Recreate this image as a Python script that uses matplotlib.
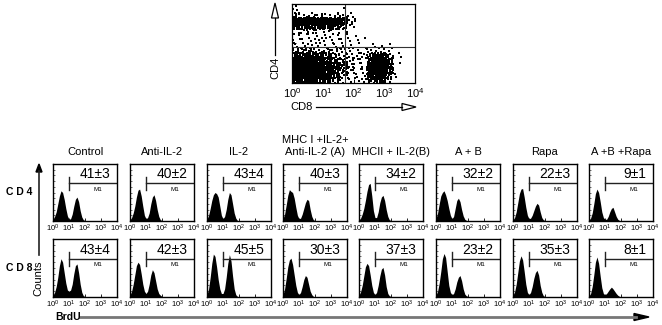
import numpy as np
import matplotlib
matplotlib.use("Agg")
import matplotlib.pyplot as plt
from matplotlib.patches import Polygon

plt.rcParams['font.family'] = ['Liberation Sans', 'DejaVu Sans']
plt.rcParams['mathtext.fontset'] = 'custom'
plt.rcParams['mathtext.rm'] = 'Liberation Sans'
plt.rcParams['mathtext.it'] = 'Liberation Sans:italic'

W, H = 662, 325

# column titles of the BrdU histograms
conditions = ["Control", "Anti-IL-2", "IL-2", "MHC I +IL-2+\nAnti-IL-2 (A)",
              "MHCII + IL-2(B)", "A + B", "Rapa", "A +B +Rapa"]
row_names = ["C D 4", "C D 8"]
cd4_pct = ["41±3", "40±2", "43±4", "40±3", "34±2", "32±2", "22±3", "9±1"]
cd8_pct = ["43±4", "42±3", "45±5", "30±3", "37±3", "23±2", "35±3", "8±1"]

# log10 BrdU bin positions (0.1 decade) and counts, % of panel height
brdu_log = [0.0, 0.1, 0.2, 0.3, 0.4, 0.5, 0.6, 0.7, 0.8, 0.9, 1.0,
            1.1, 1.2, 1.3, 1.4, 1.5, 1.6, 1.7, 1.8, 1.9, 2.0, 2.1]
cd4_hist = [
    [3, 8, 16, 30, 44, 53, 50, 38, 22, 9, 3, 4, 12, 26, 38, 42, 34, 18, 7, 2, 1, 0],
    [2, 6, 14, 26, 42, 54, 56, 44, 26, 10, 4, 6, 14, 30, 42, 46, 36, 20, 8, 2, 1, 0],
    [3, 10, 22, 36, 46, 50, 48, 42, 26, 10, 4, 8, 20, 38, 50, 46, 30, 14, 5, 1, 0, 0],
    [4, 12, 28, 45, 55, 52, 50, 40, 24, 10, 4, 5, 12, 22, 32, 38, 36, 20, 8, 2, 1, 0],
    [2, 5, 12, 22, 36, 52, 64, 66, 44, 18, 6, 6, 16, 32, 42, 45, 36, 20, 8, 2, 1, 0],
    [4, 14, 30, 44, 50, 53, 46, 36, 22, 10, 4, 8, 22, 36, 40, 34, 20, 9, 3, 1, 0, 0],
    [2, 6, 16, 32, 48, 56, 57, 42, 24, 10, 4, 5, 10, 18, 26, 31, 28, 16, 6, 2, 1, 0],
    [2, 5, 14, 30, 48, 56, 50, 34, 16, 6, 3, 3, 8, 16, 22, 24, 16, 8, 3, 1, 0, 0],
]
cd8_hist = [
    [3, 8, 18, 34, 54, 66, 60, 42, 24, 12, 10, 12, 22, 40, 54, 57, 42, 22, 8, 2, 1, 0],
    [3, 10, 22, 38, 54, 60, 56, 40, 22, 10, 6, 10, 22, 38, 47, 42, 28, 14, 6, 3, 1, 0],
    [4, 14, 34, 58, 74, 70, 52, 30, 14, 6, 6, 14, 34, 58, 73, 62, 36, 14, 4, 1, 0, 0],
    [4, 14, 32, 52, 64, 67, 56, 38, 20, 8, 4, 8, 18, 30, 37, 34, 22, 10, 4, 1, 0, 0],
    [3, 9, 20, 36, 52, 58, 54, 38, 20, 8, 4, 8, 20, 36, 48, 51, 38, 18, 6, 2, 1, 0],
    [3, 10, 24, 44, 66, 75, 68, 44, 20, 8, 4, 6, 14, 26, 34, 37, 28, 14, 5, 2, 1, 0],
    [3, 9, 22, 42, 62, 71, 64, 44, 22, 8, 4, 8, 18, 32, 42, 46, 38, 20, 8, 2, 1, 0],
    [2, 6, 18, 38, 60, 69, 58, 36, 16, 6, 4, 6, 10, 14, 17, 14, 10, 6, 3, 1, 0, 0],
]
m1_start = 10

# CD4 vs CD8 dot plot: event density level per 0.25 decade cell
# (16 columns of CD8 from 10^0, rows of CD4 from 10^4 down to 10^0)
dot_density = [
    "2000000000000000",
    "2000001000000000",
    "5444345300000000",
    "9999998500000000",
    "7777766200000000",
    "3332332100000000",
    "3222222110000000",
    "2222222111100000",
    "3222222211111000",
    "5554443322343100",
    "7776654333685100",
    "8888765333896200",
    "9999876433997200",
    "9999875423997100",
    "9999764323896100",
    "8887653212673000",
]
level_counts = [0, 1, 2, 3, 5, 8, 13, 19, 28, 42]
gate_cd8 = 54
gate_cd4 = 63

fig = plt.figure(figsize=(W / 100, H / 100), dpi=100)


def px_axes(l, t, r, b):
    return fig.add_axes([l / W, 1 - b / H, (r - l) / W, (b - t) / H])


# ---- dot plot ----
# dots are laid out in each cell on a low-discrepancy (R2) sequence
xs, ys = [], []
for r, line in enumerate(dot_density):
    for c, ch in enumerate(line):
        n = level_counts[int(ch)]
        start = (r * 16 + c) * 53
        for k in range(start, start + n):
            u = (0.5 + k * 0.7548776662) % 1
            v = (0.5 + k * 0.5698402910) % 1
            # spread each cell's dots a little past its edges
            xs.append(10 ** ((c - 0.2 + 1.4 * u) * 0.25))
            ys.append(10 ** ((15 - r - 0.2 + 1.4 * v) * 0.25))

ax_s = px_axes(292, 4, 415, 83)
ax_s.scatter(xs, ys, s=1.3, marker='s', color='black', linewidths=0)
ax_s.set_xscale('log')
ax_s.set_yscale('log')
ax_s.set_xlim(1, 1e4)
ax_s.set_ylim(1, 1e4)
ax_s.axvline(gate_cd8, color='#333333', lw=0.8)
ax_s.axhline(gate_cd4, color='#333333', lw=0.8)
ax_s.set_xticks([1, 10, 100, 1000, 10000])
ax_s.set_xticklabels([r'$10^{%d}$' % i for i in range(5)])
ax_s.set_yticks([1, 10, 100, 1000, 10000])
ax_s.tick_params(which='major', direction='in', length=3, width=0.7,
                 labelsize=8, pad=2, labelleft=False)
ax_s.tick_params(which='minor', direction='in', length=1.5, width=0.5)
ax_s.yaxis.set_minor_formatter(plt.NullFormatter())
ax_s.xaxis.set_minor_formatter(plt.NullFormatter())
for sp in ax_s.spines.values():
    sp.set_linewidth(0.9)

# ---- BrdU histograms ----
lefts = [53, 130, 207, 283, 359, 436, 513, 589]
row_box = [(164, 221), (239, 297)]
bx = 10 ** np.array(brdu_log)
for i, (hists, pcts) in enumerate([(cd4_hist, cd4_pct), (cd8_hist, cd8_pct)]):
    top, bot = row_box[i]
    for j in range(8):
        ax = px_axes(lefts[j], top, lefts[j] + 64, bot)
        ax.fill_between(bx, hists[j], color='black', lw=0)
        ax.set_xscale('log')
        ax.set_xlim(1, 1e4)
        ax.set_ylim(0, 100)
        ax.plot([m1_start, m1_start], [54, 77], color='#222222', lw=1)
        ax.plot([m1_start, 1e4], [66, 66], color='#222222', lw=1)
        ax.text(10 ** 3.6, 75, pcts[j], ha='right', va='baseline', fontsize=10)
        ax.text(10 ** 2.8, 60, 'M1', ha='center', va='top', fontsize=4.5)
        ax.set_xticks([1, 10, 100, 1000, 10000])
        ax.set_xticklabels([r'$10^{%d}$' % k for k in range(5)])
        ax.xaxis.set_minor_formatter(plt.NullFormatter())
        ax.set_yticks(range(0, 101, 10))
        ax.tick_params(axis='x', which='major', direction='in', length=2.5,
                       width=0.6, labelsize=5.5, pad=1.5)
        ax.tick_params(axis='x', which='minor', direction='in', length=1.2, width=0.4)
        ax.tick_params(axis='y', direction='in', length=1.5, width=0.4, labelleft=False)
        for sp in ax.spines.values():
            sp.set_linewidth(1)

# ---- labels and arrows in pixel space ----
ov = fig.add_axes([0, 0, 1, 1])
ov.set_xlim(0, W)
ov.set_ylim(H, 0)
ov.axis('off')

for j, t in enumerate(conditions):
    ov.text(lefts[j] + 32, 157, t, ha='center', va='bottom', fontsize=8,
            linespacing=1.25)

ov.text(19, 192, row_names[0], ha='center', va='center', fontsize=7.5, fontweight='bold')
ov.text(19, 268, row_names[1], ha='center', va='center', fontsize=7.5, fontweight='bold')

# Counts axis arrow
ov.plot([39, 39], [171, 255], color='#222222', lw=1.2)
ov.add_patch(Polygon([[36, 172], [42, 172], [39, 164]], closed=True, color='black'))
ov.text(38, 278, "Counts", rotation=90, ha='center', va='center', fontsize=8)

# BrdU axis arrow
ov.text(55, 317, "BrdU", ha='left', va='center', fontsize=7.5, fontweight='bold')
ov.plot([80, 636], [317, 317], color='#777777', lw=2)
ov.add_patch(Polygon([[634, 313.5], [634, 320.5], [649, 317]], closed=True, color='black'))

# dot plot axis arrows (open heads)
ov.text(275, 68, "CD4", rotation=90, ha='center', va='center', fontsize=8)
ov.plot([275, 275], [55, 18], color='black', lw=0.9)
ov.add_patch(Polygon([[271.5, 18], [278.5, 18], [275, 3]], closed=True,
                     fill=False, edgecolor='black', lw=0.9))
ov.text(302, 107, "CD8", ha='center', va='center', fontsize=8)
ov.plot([316, 402], [107, 107], color='black', lw=0.9)
ov.add_patch(Polygon([[402, 103.5], [402, 110.5], [416, 107]], closed=True,
                     fill=False, edgecolor='black', lw=0.9))

fig.savefig("out.png", dpi=100)
